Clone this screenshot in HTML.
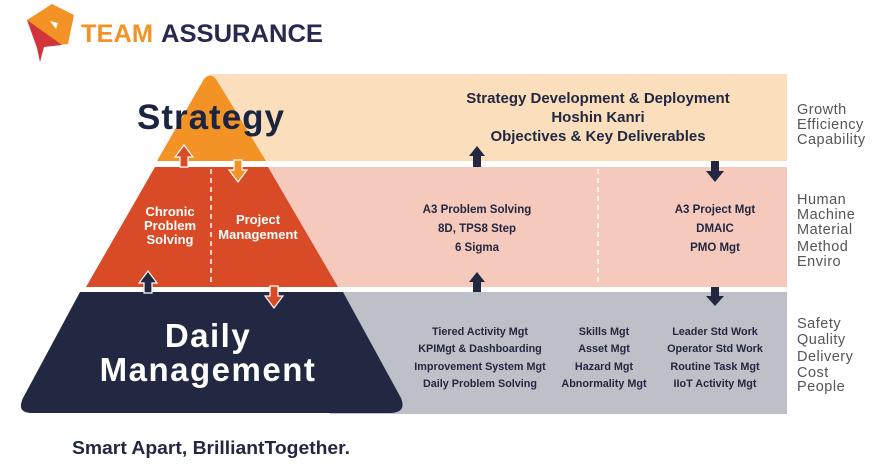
<!DOCTYPE html>
<html><head><meta charset="utf-8"><style>
html,body{margin:0;padding:0;background:#fff}
svg{display:block}
text{font-family:"Liberation Sans",Arial,sans-serif}
</style></head><body>
<svg width="887" height="466" viewBox="0 0 887 466" xmlns="http://www.w3.org/2000/svg">
<!-- logo -->
<polygon points="52,4 74,15 68,44 42,46 27,20" fill="#f39325"/>
<polygon points="27,20 62,45 44,47 40,62 37,48" fill="#d3333a"/>
<polygon points="50,21 58,23 56,29" fill="#fff"/>
<text x="81" y="42" font-size="25" font-weight="bold" fill="#f39325" textLength="72" lengthAdjust="spacingAndGlyphs">TEAM</text>
<text x="161" y="42" font-size="25" font-weight="bold" fill="#272a4f" textLength="162" lengthAdjust="spacingAndGlyphs">ASSURANCE</text>

<!-- bands -->
<rect x="210" y="74" width="577" height="87" fill="#fbdfbd"/>
<rect x="260" y="167" width="527" height="120" fill="#f5c9bb"/>
<rect x="330" y="292" width="457" height="122" fill="#bdc0c7"/>
<line x1="598" y1="169" x2="598" y2="286" stroke="#fff" stroke-width="1.5" stroke-dasharray="5,4"/>

<!-- pyramid -->
<path d="M204,79 Q210,72 216,79 L266,161 L157,161 Z" fill="#f39325"/>
<polygon points="155,167 268,167 338,287 86,287" fill="#d94b26"/>
<path d="M80,292 L343,292 L401,398 Q407,413 390,413 L32,413 Q16,413 23,398 Z" fill="#232842"/>
<line x1="211" y1="169" x2="211" y2="286" stroke="#fff" stroke-width="1.5" stroke-dasharray="5,4"/>

<!-- arrows (triangle) -->
<g stroke="#fff" stroke-width="1.2">
<polygon points="184,145 193,157 188,157 188,167 180,167 180,157 175,157" fill="#d94b26"/>
<polygon points="234,160 242,160 242,170 247,170 238,182 229,170 234,170" fill="#f39325"/>
<polygon points="148,271 157,283 152,283 152,293 144,293 144,283 139,283" fill="#232842"/>
<polygon points="270,286 278,286 278,296 283,296 274,308 265,296 270,296" fill="#d94b26"/>
</g>
<g fill="#232842">
<polygon points="477,146 485,156 481,156 481,167 473,167 473,156 469,156"/>
<polygon points="711,161 719,161 719,171 724,171 715,182 706,171 711,171"/>
<polygon points="477,272 485,282 481,282 481,292 473,292 473,282 469,282"/>
<polygon points="711,287 719,287 719,296 724,296 715,306 706,296 711,296"/>
</g>

<!-- pyramid labels -->
<text x="211" y="129" font-size="35" font-weight="bold" fill="#1c2540" text-anchor="middle" letter-spacing="1">Strategy</text>
<g font-size="13" font-weight="bold" fill="#fff" text-anchor="middle">
<text x="170" y="216">Chronic</text>
<text x="170" y="230">Problem</text>
<text x="170" y="244">Solving</text>
<text x="258" y="224">Project</text>
<text x="258" y="239">Management</text>
</g>
<text x="208" y="347" font-size="33" font-weight="bold" fill="#fff" text-anchor="middle" letter-spacing="1.5">Daily</text>
<text x="208" y="381" font-size="33" font-weight="bold" fill="#fff" text-anchor="middle" letter-spacing="1.5">Management</text>

<!-- band text -->
<g font-size="15" font-weight="bold" fill="#232842" text-anchor="middle">
<text x="598" y="103">Strategy Development &amp; Deployment</text>
<text x="598" y="122">Hoshin Kanri</text>
<text x="598" y="141">Objectives &amp; Key Deliverables</text>
</g>
<g font-size="11.5" font-weight="bold" fill="#232842" text-anchor="middle">
<text x="477" y="213">A3 Problem Solving</text>
<text x="477" y="232">8D, TPS8 Step</text>
<text x="477" y="251">6 Sigma</text>
<text x="715" y="213">A3 Project Mgt</text>
<text x="715" y="232">DMAIC</text>
<text x="715" y="251">PMO Mgt</text>
</g>
<g font-size="10.8" font-weight="bold" fill="#232842" text-anchor="middle">
<text x="480" y="335">Tiered Activity Mgt</text>
<text x="480" y="352">KPIMgt &amp; Dashboarding</text>
<text x="480" y="370">Improvement System Mgt</text>
<text x="480" y="387">Daily Problem Solving</text>
<text x="604" y="335">Skills Mgt</text>
<text x="604" y="352">Asset Mgt</text>
<text x="604" y="370">Hazard Mgt</text>
<text x="604" y="387">Abnormality Mgt</text>
<text x="715" y="335">Leader Std Work</text>
<text x="715" y="352">Operator Std Work</text>
<text x="715" y="370">Routine Task Mgt</text>
<text x="715" y="387">IIoT Activity Mgt</text>
</g>

<!-- right labels -->
<g font-size="14.5" fill="#555" letter-spacing="0.5">
<text x="797" y="114">Growth</text>
<text x="797" y="129">Efficiency</text>
<text x="797" y="144">Capability</text>
<text x="797" y="204">Human</text>
<text x="797" y="219">Machine</text>
<text x="797" y="234">Material</text>
<text x="797" y="251">Method</text>
<text x="797" y="266">Enviro</text>
<text x="797" y="328">Safety</text>
<text x="797" y="344">Quality</text>
<text x="797" y="361">Delivery</text>
<text x="797" y="377">Cost</text>
<text x="797" y="391">People</text>
</g>

<text x="72" y="454" font-size="18" font-weight="bold" fill="#232842" textLength="278" lengthAdjust="spacingAndGlyphs">Smart Apart, BrilliantTogether.</text>
</svg>
</body></html>
